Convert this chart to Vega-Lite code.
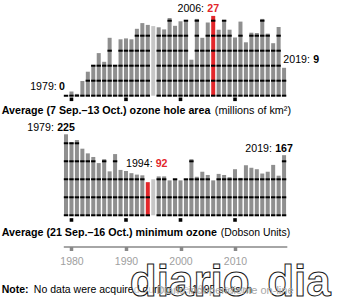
{
  "$schema": "https://vega.github.io/schema/vega-lite/v6.json",
  "width": 348,
  "height": 300,
  "autosize": {"type": "none"},
  "padding": 0,
  "background": "white",
  "config": {"view": {"stroke": null}, "font": "Liberation Sans", "text": {"font": "Liberation Sans", "fontSize": 10.6, "baseline": "alphabetic", "color": "black"}},
  "data": {"values": [
    {"year": 1979, "area": 0, "ozone": 225},
    {"year": 1980, "area": 1.4, "ozone": 203},
    {"year": 1981, "area": 0.6, "ozone": 209},
    {"year": 1982, "area": 4.9, "ozone": 185},
    {"year": 1983, "area": 8.0, "ozone": 172},
    {"year": 1984, "area": 10.1, "ozone": 162},
    {"year": 1985, "area": 14.2, "ozone": 145},
    {"year": 1986, "area": 11.3, "ozone": 156},
    {"year": 1987, "area": 19.3, "ozone": 122},
    {"year": 1988, "area": 10.0, "ozone": 170},
    {"year": 1989, "area": 18.8, "ozone": 126},
    {"year": 1990, "area": 19.1, "ozone": 123},
    {"year": 1991, "area": 18.8, "ozone": 117},
    {"year": 1992, "area": 22.3, "ozone": 113},
    {"year": 1993, "area": 24.2, "ozone": 111},
    {"year": 1994, "area": 23.6, "ozone": 92},
    {"year": 1995, "area": 23.2, "ozone": 100},
    {"year": 1996, "area": 22.8, "ozone": 108},
    {"year": 1997, "area": 22.1, "ozone": 108},
    {"year": 1998, "area": 25.9, "ozone": 97},
    {"year": 1999, "area": 23.3, "ozone": 101},
    {"year": 2000, "area": 24.8, "ozone": 97},
    {"year": 2001, "area": 25.0, "ozone": 100},
    {"year": 2002, "area": 12.0, "ozone": 156},
    {"year": 2003, "area": 25.6, "ozone": 107},
    {"year": 2004, "area": 19.3, "ozone": 121},
    {"year": 2005, "area": 24.4, "ozone": 112},
    {"year": 2006, "area": 26.6, "ozone": 97},
    {"year": 2007, "area": 22.0, "ozone": 115},
    {"year": 2008, "area": 25.2, "ozone": 112},
    {"year": 2009, "area": 22.0, "ozone": 106},
    {"year": 2010, "area": 19.4, "ozone": 128},
    {"year": 2011, "area": 24.7, "ozone": 104},
    {"year": 2012, "area": 17.8, "ozone": 139},
    {"year": 2013, "area": 21.0, "ozone": 132},
    {"year": 2014, "area": 20.9, "ozone": 128},
    {"year": 2015, "area": 25.6, "ozone": 116},
    {"year": 2016, "area": 20.7, "ozone": 121},
    {"year": 2017, "area": 17.5, "ozone": 140},
    {"year": 2018, "area": 22.9, "ozone": 110},
    {"year": 2019, "area": 9.3, "ozone": 167}
  ]},
  "resolve": {"scale": {"y": "independent"}},
  "layer": [
    {
      "layer": [
        {
          "mark": {"type": "bar", "width": 4},
          "encoding": {
            "x": {"field": "year", "type": "quantitative", "scale": {"domain": [1978.5, 2019.5], "range": [63.3, 286.8], "nice": false, "zero": false, "padding": 0},
              "axis": {"values": [1980, 1990, 2000, 2010], "format": "d", "orient": "bottom", "offset": -53.5, "title": null, "grid": false,
                "domainColor": "#888888", "domainWidth": 1.3, "tickColor": "#888888", "tickSize": 4, "tickWidth": 3.5,
                "labelColor": "#a0a0a0", "labelFont": "Liberation Sans", "labelFontSize": 10.5, "labelPadding": 6}},
            "y": {"field": "area", "type": "quantitative", "scale": {"domain": [-68.1, 31.9], "nice": false, "zero": false}, "axis": null},
            "y2": {"datum": 0},
            "color": {"condition": [{"test": "datum.year === 2006", "value": "#e3262a"}, {"test": "datum.year === 1995", "value": "#c6c6c6"}], "value": "#8f8f8f"}
          }
        },
        {"transform": [{"filter": "datum.year !== 1995 && datum.area >= 0"}], "mark": {"type": "tick", "orient": "horizontal", "size": 4.4, "thickness": 2, "color": "black", "opacity": 1},
          "encoding": {"x": {"field": "year", "type": "quantitative", "scale": {"domain": [1978.5, 2019.5], "range": [63.3, 286.8], "nice": false, "zero": false, "padding": 0}},
            "y": {"datum": 0, "type": "quantitative", "scale": {"domain": [-68.1, 31.9], "nice": false, "zero": false}, "axis": null}}},
        {"transform": [{"filter": "datum.year !== 1995 && datum.area >= 5"}], "mark": {"type": "tick", "orient": "horizontal", "size": 4.4, "thickness": 2, "color": "black", "opacity": 1},
          "encoding": {"x": {"field": "year", "type": "quantitative", "scale": {"domain": [1978.5, 2019.5], "range": [63.3, 286.8], "nice": false, "zero": false, "padding": 0}},
            "y": {"datum": 5, "type": "quantitative", "scale": {"domain": [-68.1, 31.9], "nice": false, "zero": false}, "axis": null}}},
        {"transform": [{"filter": "datum.year !== 1995 && datum.area >= 10"}], "mark": {"type": "tick", "orient": "horizontal", "size": 4.4, "thickness": 2, "color": "black", "opacity": 1},
          "encoding": {"x": {"field": "year", "type": "quantitative", "scale": {"domain": [1978.5, 2019.5], "range": [63.3, 286.8], "nice": false, "zero": false, "padding": 0}},
            "y": {"datum": 10, "type": "quantitative", "scale": {"domain": [-68.1, 31.9], "nice": false, "zero": false}, "axis": null}}},
        {"transform": [{"filter": "datum.year !== 1995 && datum.area >= 15"}], "mark": {"type": "tick", "orient": "horizontal", "size": 4.4, "thickness": 2, "color": "black", "opacity": 1},
          "encoding": {"x": {"field": "year", "type": "quantitative", "scale": {"domain": [1978.5, 2019.5], "range": [63.3, 286.8], "nice": false, "zero": false, "padding": 0}},
            "y": {"datum": 15, "type": "quantitative", "scale": {"domain": [-68.1, 31.9], "nice": false, "zero": false}, "axis": null}}},
        {"transform": [{"filter": "datum.year !== 1995 && datum.area >= 20"}], "mark": {"type": "tick", "orient": "horizontal", "size": 4.4, "thickness": 2, "color": "black", "opacity": 1},
          "encoding": {"x": {"field": "year", "type": "quantitative", "scale": {"domain": [1978.5, 2019.5], "range": [63.3, 286.8], "nice": false, "zero": false, "padding": 0}},
            "y": {"datum": 20, "type": "quantitative", "scale": {"domain": [-68.1, 31.9], "nice": false, "zero": false}, "axis": null}}},
        {"transform": [{"filter": "datum.year !== 1995 && datum.area >= 25"}], "mark": {"type": "tick", "orient": "horizontal", "size": 4.4, "thickness": 2, "color": "black", "opacity": 1},
          "encoding": {"x": {"field": "year", "type": "quantitative", "scale": {"domain": [1978.5, 2019.5], "range": [63.3, 286.8], "nice": false, "zero": false, "padding": 0}},
            "y": {"datum": 25, "type": "quantitative", "scale": {"domain": [-68.1, 31.9], "nice": false, "zero": false}, "axis": null}}},
        {"transform": [{"filter": "datum.year % 10 === 0"}], "mark": {"type": "point", "shape": "square", "filled": true, "size": 13, "color": "black", "opacity": 1},
          "encoding": {"x": {"field": "year", "type": "quantitative", "scale": {"domain": [1978.5, 2019.5], "range": [63.3, 286.8], "nice": false, "zero": false, "padding": 0}},
            "y": {"datum": -1.2, "type": "quantitative", "scale": {"domain": [-68.1, 31.9], "nice": false, "zero": false}, "axis": null}}},
        {"transform": [{"filter": "datum.year === 1979"}], "mark": {"type": "text", "align": "right", "dx": -1, "dy": -5.7, "fontWeight": "bold"},
          "encoding": {"x": {"field": "year", "type": "quantitative", "scale": {"domain": [1978.5, 2019.5], "range": [63.3, 286.8], "nice": false, "zero": false, "padding": 0}},
            "y": {"field": "area", "type": "quantitative", "scale": {"domain": [-68.1, 31.9], "nice": false, "zero": false}, "axis": null},
            "text": {"field": "area", "type": "quantitative", "format": ".0f"}}},
        {"transform": [{"filter": "datum.year === 1979"}, {"calculate": "datum.year + ':'", "as": "lab"}], "mark": {"type": "text", "align": "right", "dx": -9.3, "dy": -5.7},
          "encoding": {"x": {"field": "year", "type": "quantitative", "scale": {"domain": [1978.5, 2019.5], "range": [63.3, 286.8], "nice": false, "zero": false, "padding": 0}},
            "y": {"field": "area", "type": "quantitative", "scale": {"domain": [-68.1, 31.9], "nice": false, "zero": false}, "axis": null},
            "text": {"field": "lab"}}},
        {"transform": [{"filter": "datum.year === 2006"}], "mark": {"type": "text", "align": "center", "dy": -4.2, "fontWeight": "bold", "color": "#e3262a"},
          "encoding": {"x": {"field": "year", "type": "quantitative", "scale": {"domain": [1978.5, 2019.5], "range": [63.3, 286.8], "nice": false, "zero": false, "padding": 0}},
            "y": {"field": "area", "type": "quantitative", "scale": {"domain": [-68.1, 31.9], "nice": false, "zero": false}, "axis": null},
            "text": {"field": "area", "type": "quantitative", "format": ".0f"}}},
        {"transform": [{"filter": "datum.year === 2006"}, {"calculate": "datum.year + ':'", "as": "lab"}], "mark": {"type": "text", "align": "right", "dx": -9.2, "dy": -4.2},
          "encoding": {"x": {"field": "year", "type": "quantitative", "scale": {"domain": [1978.5, 2019.5], "range": [63.3, 286.8], "nice": false, "zero": false, "padding": 0}},
            "y": {"field": "area", "type": "quantitative", "scale": {"domain": [-68.1, 31.9], "nice": false, "zero": false}, "axis": null},
            "text": {"field": "lab"}}},
        {"transform": [{"filter": "datum.year === 2019"}], "mark": {"type": "text", "align": "left", "dx": 29.3, "dy": -4.5, "fontWeight": "bold"},
          "encoding": {"x": {"field": "year", "type": "quantitative", "scale": {"domain": [1978.5, 2019.5], "range": [63.3, 286.8], "nice": false, "zero": false, "padding": 0}},
            "y": {"field": "area", "type": "quantitative", "scale": {"domain": [-68.1, 31.9], "nice": false, "zero": false}, "axis": null},
            "text": {"field": "area", "type": "quantitative", "format": ".0f"}}},
        {"transform": [{"filter": "datum.year === 2019"}, {"calculate": "datum.year + ':'", "as": "lab"}], "mark": {"type": "text", "align": "left", "dx": -0.7, "dy": -4.5},
          "encoding": {"x": {"field": "year", "type": "quantitative", "scale": {"domain": [1978.5, 2019.5], "range": [63.3, 286.8], "nice": false, "zero": false, "padding": 0}},
            "y": {"field": "area", "type": "quantitative", "scale": {"domain": [-68.1, 31.9], "nice": false, "zero": false}, "axis": null},
            "text": {"field": "lab"}}},
        {"data": {"values": [{"t": "Average (7 Sep.–13 Oct.) ozone hole area"}]}, "mark": {"type": "text", "align": "left", "fontWeight": "bold", "fontSize": 10.7},
          "encoding": {"x": {"datum": 1967.2, "type": "quantitative", "scale": {"domain": [1978.5, 2019.5], "range": [63.3, 286.8], "nice": false, "zero": false, "padding": 0}},
            "y": {"datum": -6.0, "type": "quantitative", "scale": {"domain": [-68.1, 31.9], "nice": false, "zero": false}, "axis": null},
            "text": {"field": "t"}}},
        {"data": {"values": [{"t": "(millions of km²)"}]}, "mark": {"type": "text", "align": "left", "fontSize": 10.8},
          "encoding": {"x": {"datum": 2006.3, "type": "quantitative", "scale": {"domain": [1978.5, 2019.5], "range": [63.3, 286.8], "nice": false, "zero": false, "padding": 0}},
            "y": {"datum": -6.0, "type": "quantitative", "scale": {"domain": [-68.1, 31.9], "nice": false, "zero": false}, "axis": null},
            "text": {"field": "t"}}}
      ]
    },
    {
      "layer": [
        {
          "mark": {"type": "bar", "width": 4},
          "encoding": {
            "x": {"field": "year", "type": "quantitative", "scale": {"domain": [1978.5, 2019.5], "range": [63.3, 286.8], "nice": false, "zero": false, "padding": 0}},
            "y": {"field": "ozone", "type": "quantitative", "scale": {"domain": [-235.3, 598], "nice": false, "zero": false}, "axis": null},
            "y2": {"datum": 0},
            "color": {"condition": [{"test": "datum.year === 1994", "value": "#e3262a"}, {"test": "datum.year === 1995", "value": "#c6c6c6"}], "value": "#8f8f8f"}
          }
        },
        {"transform": [{"filter": "datum.year !== 1995 && datum.ozone >= 0"}], "mark": {"type": "tick", "orient": "horizontal", "size": 4.4, "thickness": 2, "color": "black", "opacity": 1},
          "encoding": {"x": {"field": "year", "type": "quantitative", "scale": {"domain": [1978.5, 2019.5], "range": [63.3, 286.8], "nice": false, "zero": false, "padding": 0}},
            "y": {"datum": 0, "type": "quantitative", "scale": {"domain": [-235.3, 598], "nice": false, "zero": false}, "axis": null}}},
        {"transform": [{"filter": "datum.year !== 1995 && datum.ozone >= 50"}], "mark": {"type": "tick", "orient": "horizontal", "size": 4.4, "thickness": 2, "color": "black", "opacity": 1},
          "encoding": {"x": {"field": "year", "type": "quantitative", "scale": {"domain": [1978.5, 2019.5], "range": [63.3, 286.8], "nice": false, "zero": false, "padding": 0}},
            "y": {"datum": 50, "type": "quantitative", "scale": {"domain": [-235.3, 598], "nice": false, "zero": false}, "axis": null}}},
        {"transform": [{"filter": "datum.year !== 1995 && datum.ozone >= 100"}], "mark": {"type": "tick", "orient": "horizontal", "size": 4.4, "thickness": 2, "color": "black", "opacity": 1},
          "encoding": {"x": {"field": "year", "type": "quantitative", "scale": {"domain": [1978.5, 2019.5], "range": [63.3, 286.8], "nice": false, "zero": false, "padding": 0}},
            "y": {"datum": 100, "type": "quantitative", "scale": {"domain": [-235.3, 598], "nice": false, "zero": false}, "axis": null}}},
        {"transform": [{"filter": "datum.year !== 1995 && datum.ozone >= 150"}], "mark": {"type": "tick", "orient": "horizontal", "size": 4.4, "thickness": 2, "color": "black", "opacity": 1},
          "encoding": {"x": {"field": "year", "type": "quantitative", "scale": {"domain": [1978.5, 2019.5], "range": [63.3, 286.8], "nice": false, "zero": false, "padding": 0}},
            "y": {"datum": 150, "type": "quantitative", "scale": {"domain": [-235.3, 598], "nice": false, "zero": false}, "axis": null}}},
        {"transform": [{"filter": "datum.year !== 1995 && datum.ozone >= 200"}], "mark": {"type": "tick", "orient": "horizontal", "size": 4.4, "thickness": 2, "color": "black", "opacity": 1},
          "encoding": {"x": {"field": "year", "type": "quantitative", "scale": {"domain": [1978.5, 2019.5], "range": [63.3, 286.8], "nice": false, "zero": false, "padding": 0}},
            "y": {"datum": 200, "type": "quantitative", "scale": {"domain": [-235.3, 598], "nice": false, "zero": false}, "axis": null}}},
        {"transform": [{"filter": "datum.year % 10 === 0"}], "mark": {"type": "point", "shape": "square", "filled": true, "size": 13, "color": "black", "opacity": 1},
          "encoding": {"x": {"field": "year", "type": "quantitative", "scale": {"domain": [1978.5, 2019.5], "range": [63.3, 286.8], "nice": false, "zero": false, "padding": 0}},
            "y": {"datum": -13, "type": "quantitative", "scale": {"domain": [-235.3, 598], "nice": false, "zero": false}, "axis": null}}},
        {"transform": [{"filter": "datum.year === 1979 || datum.year === 2019"}], "mark": {"type": "text", "align": "center", "dy": -3.5, "fontWeight": "bold"},
          "encoding": {"x": {"field": "year", "type": "quantitative", "scale": {"domain": [1978.5, 2019.5], "range": [63.3, 286.8], "nice": false, "zero": false, "padding": 0}},
            "y": {"field": "ozone", "type": "quantitative", "scale": {"domain": [-235.3, 598], "nice": false, "zero": false}, "axis": null},
            "text": {"field": "ozone", "type": "quantitative", "format": ".0f"}}},
        {"transform": [{"filter": "datum.year === 1979 || datum.year === 2019"}, {"calculate": "datum.year + ':'", "as": "lab"}], "mark": {"type": "text", "align": "right", "dx": -12.2, "dy": -3.5},
          "encoding": {"x": {"field": "year", "type": "quantitative", "scale": {"domain": [1978.5, 2019.5], "range": [63.3, 286.8], "nice": false, "zero": false, "padding": 0}},
            "y": {"field": "ozone", "type": "quantitative", "scale": {"domain": [-235.3, 598], "nice": false, "zero": false}, "axis": null},
            "text": {"field": "lab"}}},
        {"transform": [{"filter": "datum.year === 1994"}], "mark": {"type": "text", "align": "left", "dx": 7.9, "dy": -15.6, "fontWeight": "bold", "color": "#e3262a"},
          "encoding": {"x": {"field": "year", "type": "quantitative", "scale": {"domain": [1978.5, 2019.5], "range": [63.3, 286.8], "nice": false, "zero": false, "padding": 0}},
            "y": {"field": "ozone", "type": "quantitative", "scale": {"domain": [-235.3, 598], "nice": false, "zero": false}, "axis": null},
            "text": {"field": "ozone", "type": "quantitative", "format": ".0f"}}},
        {"transform": [{"filter": "datum.year === 1994"}, {"calculate": "datum.year + ':'", "as": "lab"}], "mark": {"type": "text", "align": "right", "dx": 4.8, "dy": -15.6},
          "encoding": {"x": {"field": "year", "type": "quantitative", "scale": {"domain": [1978.5, 2019.5], "range": [63.3, 286.8], "nice": false, "zero": false, "padding": 0}},
            "y": {"field": "ozone", "type": "quantitative", "scale": {"domain": [-235.3, 598], "nice": false, "zero": false}, "axis": null},
            "text": {"field": "lab"}}},
        {"data": {"values": [{"t": "Average (21 Sep.–16 Oct.) minimum ozone"}]}, "mark": {"type": "text", "align": "left", "fontWeight": "bold", "fontSize": 10.7},
          "encoding": {"x": {"datum": 1967.2, "type": "quantitative", "scale": {"domain": [1978.5, 2019.5], "range": [63.3, 286.8], "nice": false, "zero": false, "padding": 0}},
            "y": {"datum": -57.5, "type": "quantitative", "scale": {"domain": [-235.3, 598], "nice": false, "zero": false}, "axis": null},
            "text": {"field": "t"}}},
        {"data": {"values": [{"t": "(Dobson Units)"}]}, "mark": {"type": "text", "align": "left", "fontSize": 10.4},
          "encoding": {"x": {"datum": 2007.4, "type": "quantitative", "scale": {"domain": [1978.5, 2019.5], "range": [63.3, 286.8], "nice": false, "zero": false, "padding": 0}},
            "y": {"datum": -57.5, "type": "quantitative", "scale": {"domain": [-235.3, 598], "nice": false, "zero": false}, "axis": null},
            "text": {"field": "t"}}},
        {"data": {"values": [{"t": "Note:"}]}, "mark": {"type": "text", "align": "left", "fontWeight": "bold", "fontSize": 10.5},
          "encoding": {"x": {"datum": 1967.2, "type": "quantitative", "scale": {"domain": [1978.5, 2019.5], "range": [63.3, 286.8], "nice": false, "zero": false, "padding": 0}},
            "y": {"datum": -215, "type": "quantitative", "scale": {"domain": [-235.3, 598], "nice": false, "zero": false}, "axis": null},
            "text": {"field": "t"}}},
        {"data": {"values": [{"t": "No data were acquired during the 1995 season"}]}, "mark": {"type": "text", "align": "left", "fontSize": 10.5},
          "encoding": {"x": {"datum": 1973.1, "type": "quantitative", "scale": {"domain": [1978.5, 2019.5], "range": [63.3, 286.8], "nice": false, "zero": false, "padding": 0}},
            "y": {"datum": -215, "type": "quantitative", "scale": {"domain": [-235.3, 598], "nice": false, "zero": false}, "axis": null},
            "text": {"field": "t"}}},
        {"data": {"values": [{"t": "diario"}]}, "mark": {"type": "text", "align": "left", "font": "Liberation Sans", "fontSize": 44, "fontWeight": "bold", "fill": "white", "fillOpacity": 0.8, "stroke": "#1a1a1a", "strokeWidth": 1},
          "encoding": {"x": {"datum": 1990.7, "type": "quantitative", "scale": {"domain": [1978.5, 2019.5], "range": [63.3, 286.8], "nice": false, "zero": false, "padding": 0}},
            "y": {"datum": -225, "type": "quantitative", "scale": {"domain": [-235.3, 598], "nice": false, "zero": false}, "axis": null},
            "text": {"field": "t"}}},
        {"data": {"values": [{"t": "dia"}]}, "mark": {"type": "text", "align": "left", "font": "Liberation Sans", "fontSize": 44, "fontWeight": "bold", "fill": "white", "fillOpacity": 0.8, "stroke": "#1a1a1a", "strokeWidth": 1},
          "encoding": {"x": {"datum": 2015.9, "type": "quantitative", "scale": {"domain": [1978.5, 2019.5], "range": [63.3, 286.8], "nice": false, "zero": false, "padding": 0}},
            "y": {"datum": -225, "type": "quantitative", "scale": {"domain": [-235.3, 598], "nice": false, "zero": false}, "axis": null},
            "text": {"field": "t"}}},
        {"data": {"values": [{"t": "Diario independiente on-line"}]}, "mark": {"type": "text", "align": "left", "fontSize": 11, "color": "#a8a8a8"},
          "encoding": {"x": {"datum": 1995.6, "type": "quantitative", "scale": {"domain": [1978.5, 2019.5], "range": [63.3, 286.8], "nice": false, "zero": false, "padding": 0}},
            "y": {"datum": -218.6, "type": "quantitative", "scale": {"domain": [-235.3, 598], "nice": false, "zero": false}, "axis": null},
            "text": {"field": "t"}}}
      ]
    }
  ]
}
